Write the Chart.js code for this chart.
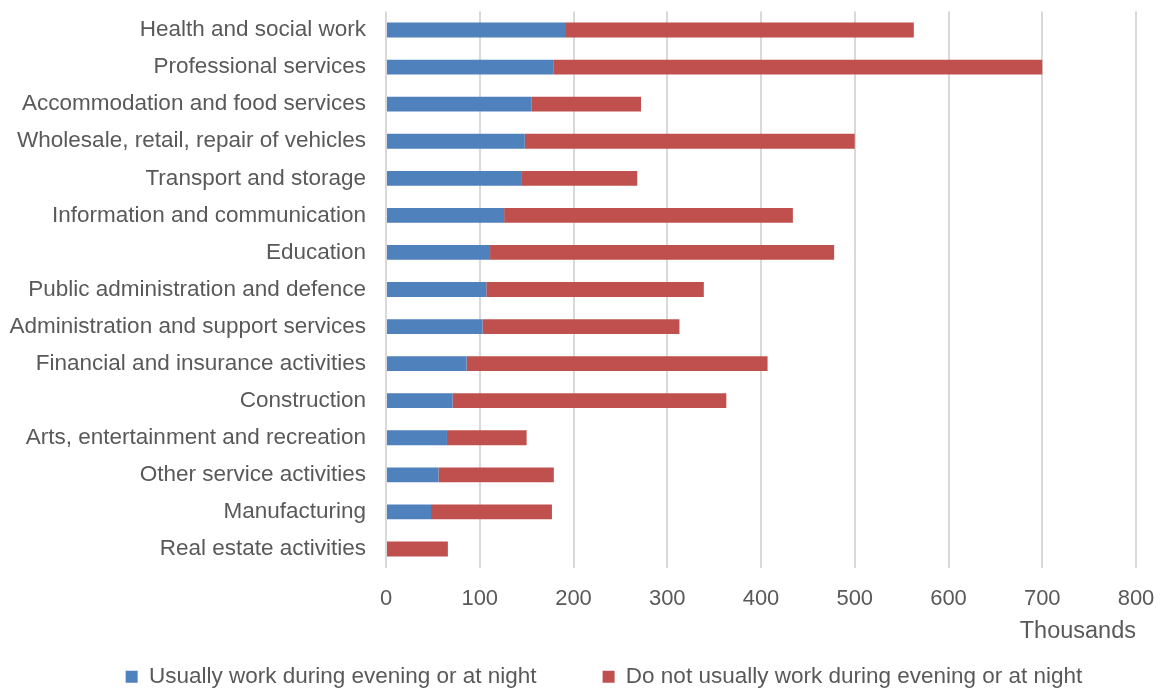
<!DOCTYPE html>
<html>
<head>
<meta charset="utf-8">
<script src="https://cdn.jsdelivr.net/npm/chart.js@4.4.0/dist/chart.umd.min.js"></script>
<style>
    html, body { margin: 0; padding: 0; background: #fff; }
    #wrap { width: 1164px; height: 688px; }
</style>
</head>
<body>
<div id="wrap"><canvas id="nightWorkChart"></canvas></div>
<script>
// Industry categories (top to bottom)
const industries = [
    'Health and social work',
    'Professional services',
    'Accommodation and food services',
    'Wholesale, retail, repair of vehicles',
    'Transport and storage',
    'Information and communication',
    'Education',
    'Public administration and defence',
    'Administration and support services',
    'Financial and insurance activities',
    'Construction',
    'Arts, entertainment and recreation',
    'Other service activities',
    'Manufacturing',
    'Real estate activities'
];

// Thousands of workers
const usuallyNight = [192, 179, 155, 148, 145, 126, 111, 107, 103, 86, 71, 65, 56, 48, 0];
const notUsuallyNight = [371, 521, 117, 352, 123, 308, 367, 232, 210, 321, 292, 85, 123, 129, 66];

const xTicks = [0, 100, 200, 300, 400, 500, 600, 700, 800];

const textColor = '#595959';
const fontFamily = '"Liberation Sans", Arial, sans-serif';

// layout numbers (pixels)
const padLeft = 8;
const padRight = 28;
const plotLeft = 386;
const xAxisHeight = 80;
const legendPadding = 66;

// move the legend row to where the original has it
const legendNudge = {
    id: 'legendNudge',
    afterLayout(chart) {
        const lg = chart.legend;
        if (!lg) return;
        const dx = 32, dy = -48;
        lg.left += dx; lg.right += dx;
        lg.top += dy; lg.bottom += dy;
    }
};

document.addEventListener('DOMContentLoaded', () => {
    const ctx = document.getElementById('nightWorkChart').getContext('2d');

    new Chart(ctx, {
        type: 'bar',
        data: {
            labels: industries,
            datasets: [{
                label: 'Usually work during evening or at night',
                data: usuallyNight,
                backgroundColor: '#4f81bd',
                borderWidth: 0
            }, {
                label: 'Do not usually work during evening or at night',
                data: notUsuallyNight,
                backgroundColor: '#c0504d',
                borderWidth: 0
            }]
        },
        plugins: [legendNudge],
        options: {
            indexAxis: 'y',
            responsive: true,
            maintainAspectRatio: false,
            animation: false,
            layout: {
                padding: { top: 11.5, right: padRight, bottom: -58, left: padLeft }
            },
            datasets: {
                bar: { barPercentage: 0.4, categoryPercentage: 1 }
            },
            plugins: {
                tooltip: { enabled: false },
                legend: {
                    position: 'bottom',
                    labels: {
                        color: textColor,
                        font: { family: fontFamily, size: 22.5 },
                        boxWidth: 12,
                        boxHeight: 12,
                        padding: legendPadding
                    }
                }
            },
            scales: {
                x: {
                    stacked: true,
                    min: 0,
                    max: 800,
                    afterBuildTicks: axis => {
                        axis.ticks = xTicks.map(v => ({ value: v }));
                    },
                    grid: {
                        color: '#d9d9d9',
                        lineWidth: 2,
                        drawTicks: false
                    },
                    border: { display: false },
                    ticks: {
                        color: textColor,
                        font: { family: fontFamily, size: 22 },
                        padding: 18
                    },
                    title: {
                        display: true,
                        text: 'Thousands',
                        align: 'end',
                        color: textColor,
                        font: { family: fontFamily, size: 23.5 },
                        padding: { top: 0, bottom: 1.5 }
                    },
                    afterFit: axis => {
                        axis.height = xAxisHeight;
                        axis.paddingLeft = 0;
                        axis.paddingRight = 0;
                    }
                },
                y: {
                    stacked: true,
                    grid: { display: false },
                    border: { display: false },
                    ticks: {
                        color: textColor,
                        font: { family: fontFamily, size: 22.5 },
                        padding: 12,
                        autoSkip: false
                    },
                    afterFit: axis => {
                        axis.width = plotLeft - padLeft;
                        axis.paddingTop = 0;
                        axis.paddingBottom = 0;
                    }
                }
            }
        }
    });
});
</script>
</body>
</html>
